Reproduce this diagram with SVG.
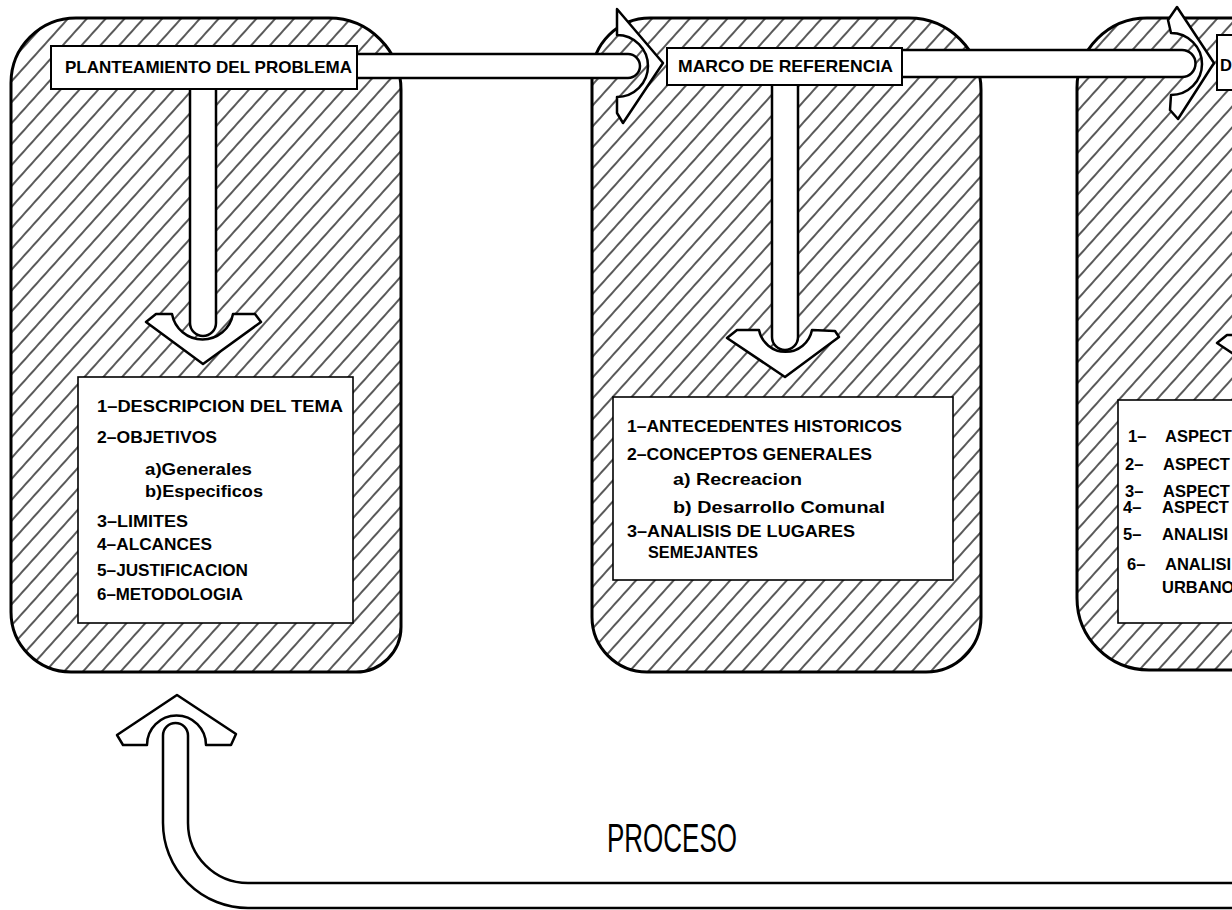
<svg xmlns="http://www.w3.org/2000/svg" width="1232" height="910" viewBox="0 0 1232 910">
<style>
.panel{fill:url(#hatch);stroke:#000;stroke-width:3}
.tube{fill:#fff;stroke:#000;stroke-width:2.5;stroke-linejoin:round}
.head{fill:#fff;stroke:#000;stroke-width:2}
.box{fill:#fff;stroke:#000;stroke-width:1.6}
.t{font-family:"Liberation Sans",Arial,sans-serif;font-weight:bold;font-size:16.5px;fill:#000}
.big{font-family:"Liberation Sans",Arial,sans-serif;font-size:40px;fill:#000}
</style>
<defs>
<pattern id="hatch" patternUnits="userSpaceOnUse" width="14" height="14" patternTransform="rotate(42)">
<rect width="14" height="14" fill="#fff"/>
<line x1="7" y1="0" x2="7" y2="14" stroke="#000" stroke-width="1.3"/>
</pattern>
</defs>
<rect width="1232" height="910" fill="#fff"/>

<g id="panel-1"><path class="panel" d="M76,18 H329 A72,72 0 0 1 401,90 V627 A45,45 0 0 1 356,672 H71 A60,60 0 0 1 11,612 V83 A65,65 0 0 1 76,18 Z"/></g>
<g id="panel-2"><path class="panel" d="M650,18 H909 A72,72 0 0 1 981,90 V617 A55,55 0 0 1 926,672 H647 A55,55 0 0 1 592,617 V76 A58,58 0 0 1 650,18 Z"/></g>
<g id="panel-3"><path class="panel" d="M1147,18 H1300 V670 H1149 A72,72 0 0 1 1077,598 V88 A70,70 0 0 1 1147,18 Z"/></g>

<g id="connectors">
<path class="tube" d="M340,54 H628 A12,12 0 0 1 628,78 H340"/>
<path class="tube" d="M890,50 H1182 A13.5,13.5 0 0 1 1182,77 H890"/>
<path class="tube" d="M617,9 L663,63 L623,123 L617,113 L617,97 A31,31 0 0 0 617,35 L617,19 Z"/>
<path class="tube" d="M1177,7 L1214,63 L1178,119 L1170,110 L1171,95 A31,31 0 0 0 1171,33 L1168,20 Z"/>
<path class="tube" d="M190,80 V323 A13,13 0 0 0 216,323 V80"/>
<path class="tube" d="M146,322 L156,314 L172,314 A31,31 0 0 0 233,314 L255,314 L261,322 L203,364 Z"/>
<path class="tube" d="M772,80 V337 A13,13 0 0 0 798,337 V80"/>
<path class="tube" d="M727,338 L737,330 L759,330 A27,27 0 0 0 812,330 L835,331 L839,337 L785,377 Z"/>
<path class="tube" d="M1217,343 L1227,335 L1249,335 A27,27 0 0 0 1302,335 L1329,342 L1275,382 Z"/>
<path class="tube" d="M1240,908 H248 A85,85 0 0 1 163,823 V735.5 A12.5,12.5 0 0 1 188,735.5 V823 A60,60 0 0 0 248,883 H1240"/>
<path class="tube" d="M177,695 L236,734 L231,745 L206,745 A29.5,29.5 0 0 0 147,745 L123,745 L117,735 Z"/>
</g>

<g id="node-planteamiento">
<rect class="head" x="51" y="46" width="306" height="43"/>
<text class="t" x="65" y="73" textLength="287" lengthAdjust="spacingAndGlyphs">PLANTEAMIENTO DEL PROBLEMA</text>
</g>
<g id="node-marco">
<rect class="head" x="667" y="48" width="235" height="37"/>
<text class="t" x="678" y="72" textLength="215" lengthAdjust="spacingAndGlyphs">MARCO DE REFERENCIA</text>
</g>
<g id="node-d">
<rect class="head" x="1217" y="35" width="40" height="55"/>
<text class="t" x="1220" y="71">D</text>
</g>

<g id="node-lista-1">
<rect class="box" x="78" y="377" width="275" height="246"/>
<text class="t" x="97" y="412" textLength="246" lengthAdjust="spacingAndGlyphs">1–DESCRIPCION DEL TEMA</text>
<text class="t" x="97" y="443" textLength="120" lengthAdjust="spacingAndGlyphs">2–OBJETIVOS</text>
<text class="t" x="145" y="475" textLength="107" lengthAdjust="spacingAndGlyphs">a)Generales</text>
<text class="t" x="145" y="497" textLength="118" lengthAdjust="spacingAndGlyphs">b)Especificos</text>
<text class="t" x="97" y="527" textLength="91" lengthAdjust="spacingAndGlyphs">3–LIMITES</text>
<text class="t" x="97" y="550" textLength="115" lengthAdjust="spacingAndGlyphs">4–ALCANCES</text>
<text class="t" x="97" y="576" textLength="151" lengthAdjust="spacingAndGlyphs">5–JUSTIFICACION</text>
<text class="t" x="97" y="600" textLength="146" lengthAdjust="spacingAndGlyphs">6–METODOLOGIA</text>
</g>

<g id="node-lista-2">
<rect class="box" x="613" y="397" width="340" height="183"/>
<text class="t" x="627" y="432" textLength="275" lengthAdjust="spacingAndGlyphs">1–ANTECEDENTES HISTORICOS</text>
<text class="t" x="627" y="460" textLength="245" lengthAdjust="spacingAndGlyphs">2–CONCEPTOS GENERALES</text>
<text class="t" x="673" y="485" textLength="129" lengthAdjust="spacingAndGlyphs">a) Recreacion</text>
<text class="t" x="673" y="513" textLength="212" lengthAdjust="spacingAndGlyphs">b) Desarrollo Comunal</text>
<text class="t" x="627" y="537" textLength="228" lengthAdjust="spacingAndGlyphs">3–ANALISIS DE LUGARES</text>
<text class="t" x="648" y="558" textLength="110" lengthAdjust="spacingAndGlyphs">SEMEJANTES</text>
</g>

<g id="node-lista-3">
<rect class="box" x="1118" y="400" width="150" height="223"/>
<text class="t" x="1128" y="442">1–</text><text class="t" x="1165" y="442">ASPECT</text>
<text class="t" x="1125" y="470">2–</text><text class="t" x="1163" y="470">ASPECT</text>
<text class="t" x="1125" y="497">3–</text><text class="t" x="1163" y="497">ASPECT</text>
<text class="t" x="1123" y="513">4–</text><text class="t" x="1162" y="513">ASPECT</text>
<text class="t" x="1123" y="540">5–</text><text class="t" x="1162" y="540">ANALISI</text>
<text class="t" x="1127" y="570">6–</text><text class="t" x="1165" y="570">ANALISI</text>
<text class="t" x="1162" y="593">URBANO</text>
</g>

<g id="label-proceso">
<text class="big" x="607" y="852" textLength="130" lengthAdjust="spacingAndGlyphs">PROCESO</text>
</g>
</svg>
